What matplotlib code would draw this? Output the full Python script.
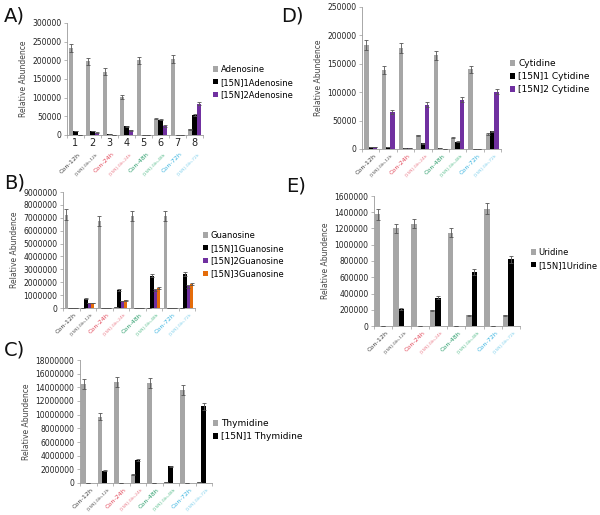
import numpy as np
import matplotlib
matplotlib.use("Agg")
import matplotlib.pyplot as plt
from matplotlib.transforms import blended_transform_factory, ScaledTranslation

# categories shared by all panels
categories = ["Con-12h", "[15N]-Gln-12h", "Con-24h", "[15N]-Gln-24h",
              "Con-48h", "[15N]-Gln-48h", "Con-72h", "[15N]-Gln-72h"]
cat_colors = ["#404040", "#505050", "#e2485a", "#ea7a88",
              "#2a9d6a", "#5cbf8f", "#3ab4e0", "#7fd0ec"]
cat_sizes = [4.6, 3.1, 4.6, 3.1, 4.6, 3.1, 4.6, 3.1]
numbers = ["1", "2", "3", "4", "5", "6", "7", "8"]

# A) adenosine
adenosine = [233000, 197000, 170000, 102000, 200000, 44000, 203000, 15000]
adenosine_err = [12000, 10000, 9000, 6000, 10000, 2000, 10000, 1500]
n1_adenosine = [11000, 11000, 2000, 23000, 0, 41000, 0, 53000]
n1_adenosine_err = [1000, 1000, 300, 2000, 0, 2000, 0, 3000]
n2_adenosine = [0, 6000, 0, 13000, 0, 24000, 0, 84000]
n2_adenosine_err = [0, 800, 0, 1500, 0, 2000, 0, 4000]

# D) cytidine
cytidine = [183000, 139000, 178000, 24000, 165000, 20000, 140000, 27000]
cytidine_err = [9000, 7000, 9000, 1500, 8000, 1500, 7000, 1500]
n1_cytidine = [3000, 4000, 2000, 10000, 1000, 13000, 0, 31000]
n1_cytidine_err = [300, 400, 200, 800, 100, 1000, 0, 1500]
n2_cytidine = [4000, 65000, 2000, 78000, 0, 87000, 0, 101000]
n2_cytidine_err = [400, 4000, 200, 4000, 0, 5000, 0, 5000]

# B) guanosine
guanosine = [7250000, 0, 6750000, 50000, 7150000, 20000, 7150000, 0]
guanosine_err = [400000, 0, 350000, 5000, 400000, 3000, 400000, 0]
n1_guanosine = [0, 720000, 0, 1420000, 0, 2500000, 0, 2650000]
n1_guanosine_err = [0, 40000, 0, 70000, 0, 120000, 0, 130000]
n2_guanosine = [0, 390000, 0, 540000, 0, 1370000, 0, 1670000]
n2_guanosine_err = [0, 20000, 0, 30000, 0, 70000, 0, 80000]
n3_guanosine = [0, 390000, 0, 590000, 0, 1550000, 0, 1850000]
n3_guanosine_err = [0, 20000, 0, 30000, 0, 80000, 0, 90000]

# E) uridine
uridine = [1375000, 1200000, 1260000, 193000, 1150000, 131000, 1444000, 131000]
uridine_err = [70000, 60000, 60000, 10000, 60000, 7000, 70000, 7000]
n1_uridine = [0, 213000, 0, 349000, 0, 665000, 0, 820000]
n1_uridine_err = [0, 11000, 0, 18000, 0, 33000, 0, 40000]

# C) thymidine
thymidine = [14450000, 9730000, 14740000, 1220000, 14600000, 100000, 13600000, 100000]
thymidine_err = [750000, 500000, 750000, 60000, 750000, 5000, 700000, 5000]
n1_thymidine = [0, 1800000, 0, 3400000, 0, 2430000, 0, 11200000]
n1_thymidine_err = [0, 90000, 0, 170000, 0, 120000, 0, 550000]

GRAY = "#a6a6a6"
BLACK = "#000000"
PURPLE = "#7030a0"
ORANGE = "#e46c0a"

fig = plt.figure(figsize=(6, 5.15), dpi=100)


def px_axes(left, right, top, bottom):
    """Make an axes from pixel edges of the 600x515 canvas."""
    return fig.add_axes([left / 600, 1 - bottom / 515,
                         (right - left) / 600, (bottom - top) / 515])


def draw_panel(ax, series, errors, colors, names, ymax, ystep,
               offsets, width, legend_xy, label_xy, tag,
               show_numbers=False, legend_size=6.0, labelspacing=0.45):
    x = np.arange(len(categories))
    for vals, errs, col, name, off in zip(series, errors, colors, names, offsets):
        ax.bar(x + off * width, vals, width, color=col, label=name, zorder=2)
        ax.errorbar(x + off * width, vals, yerr=errs, fmt="none",
                    ecolor="#555555", elinewidth=0.6, capsize=1.5,
                    capthick=0.6, zorder=3)

    ax.set_xlim(-0.5, len(categories) - 0.5)
    ax.set_ylim(0, ymax)
    ticks = np.arange(0, ymax + ystep / 2, ystep)
    ax.set_yticks(ticks)
    ax.set_yticklabels([f"{int(t)}" for t in ticks], fontsize=5.5, color="#222222")
    ax.set_ylabel("Relative Abundence", fontsize=5.5, color="#444444", labelpad=3)

    for side in ["top", "right"]:
        ax.spines[side].set_visible(False)
    for side in ["left", "bottom"]:
        ax.spines[side].set_color("#9a9a9a")
        ax.spines[side].set_linewidth(0.6)
    ax.tick_params(axis="y", length=2, width=0.5, color="#9a9a9a", pad=2)

    # category axis: ticks between the groups
    ax.set_xticks(np.arange(-0.5, len(categories)), minor=True)
    ax.tick_params(axis="x", which="minor", length=2, width=0.5, color="#9a9a9a")
    ax.set_xticks(x)
    if show_numbers:
        ax.set_xticklabels(numbers, fontsize=7, color="#222222")
        ax.tick_params(axis="x", which="major", length=0, pad=2)
        drop = -12
    else:
        ax.set_xticklabels([])
        ax.tick_params(axis="x", which="major", length=0)
        drop = -3

    trans = blended_transform_factory(ax.transData, ax.transAxes)
    shift = ScaledTranslation(2 / 72, drop / 72, fig.dpi_scale_trans)
    for xi, txt, col, size in zip(x, categories, cat_colors, cat_sizes):
        ax.text(xi, 0, txt, transform=trans + shift, rotation=45,
                rotation_mode="anchor", ha="right", va="top",
                fontsize=size, color=col)

    ax.legend(loc="upper left", bbox_to_anchor=(legend_xy[0] / 600, 1 - legend_xy[1] / 515),
              bbox_transform=fig.transFigure, frameon=False, fontsize=legend_size,
              handlelength=0.6, handleheight=0.6, handletextpad=0.3,
              labelspacing=labelspacing, borderaxespad=0, borderpad=0)

    fig.text(label_xy[0] / 600, 1 - label_xy[1] / 515, tag, fontsize=14,
             ha="left", va="center", color="#111111")


ax_a = px_axes(67, 203, 23, 135)
draw_panel(ax_a, [adenosine, n1_adenosine, n2_adenosine],
           [adenosine_err, n1_adenosine_err, n2_adenosine_err],
           [GRAY, BLACK, PURPLE],
           ["Adenosine", "[15N]1Adenosine", "[15N]2Adenosine"],
           300000, 50000, [-1, 0, 1], 0.25, (213, 65), (4, 16), "A)",
           show_numbers=True)

ax_d = px_axes(362, 501, 7, 149)
draw_panel(ax_d, [cytidine, n1_cytidine, n2_cytidine],
           [cytidine_err, n1_cytidine_err, n2_cytidine_err],
           [GRAY, BLACK, PURPLE],
           ["Cytidine", "[15N]1 Cytidine", "[15N]2 Cytidine"],
           250000, 50000, [-1, 0, 1], 0.25, (510, 59), (281, 16), "D)",
           legend_size=6.5)

ax_b = px_axes(63, 195, 192, 308)
draw_panel(ax_b, [guanosine, n1_guanosine, n2_guanosine, n3_guanosine],
           [guanosine_err, n1_guanosine_err, n2_guanosine_err, n3_guanosine_err],
           [GRAY, BLACK, PURPLE, ORANGE],
           ["Guanosine", "[15N]1Guanosine", "[15N]2Guanosine", "[15N]3Guanosine"],
           9000000, 1000000, [-1.5, -0.5, 0.5, 1.5], 0.2, (203, 231), (4, 183), "B)")

ax_e = px_axes(374, 520, 196, 326)
draw_panel(ax_e, [uridine, n1_uridine],
           [uridine_err, n1_uridine_err],
           [GRAY, BLACK],
           ["Uridine", "[15N]1Uridine"],
           1600000, 200000, [-1, 0], 0.3, (531, 248), (286, 186), "E)",
           legend_size=6.0)

ax_c = px_axes(80, 212, 360, 483)
draw_panel(ax_c, [thymidine, n1_thymidine],
           [thymidine_err, n1_thymidine_err],
           [GRAY, BLACK],
           ["Thymidine", "[15N]1 Thymidine"],
           18000000, 2000000, [-1, 0], 0.28, (213, 419), (4, 350), "C)",
           legend_size=6.5)

fig.savefig("out.png", dpi=100)
